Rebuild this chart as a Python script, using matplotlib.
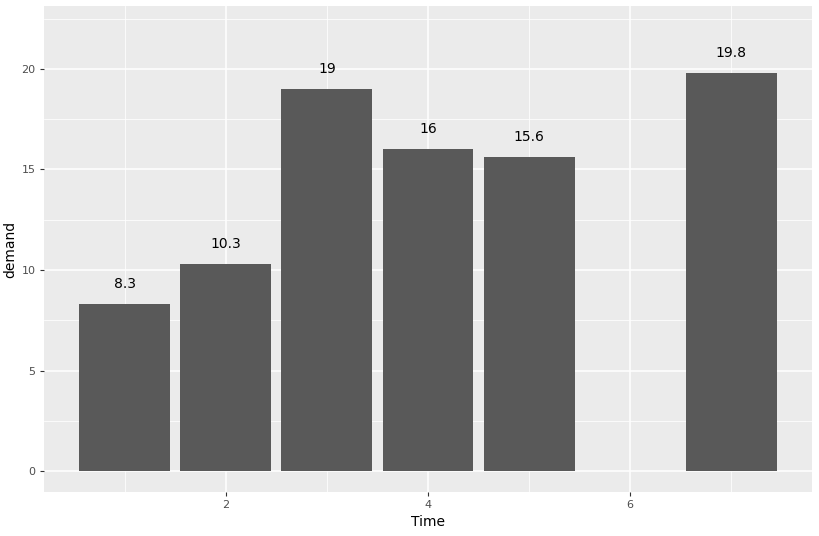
import matplotlib.pyplot as plt
from matplotlib.ticker import MultipleLocator

time = [1, 2, 3, 4, 5, 7]
demand = [8.3, 10.3, 19, 16, 15.6, 19.8]
labels = ["8.3", "10.3", "19", "16", "15.6", "19.8"]

fig = plt.figure(figsize=(8.2, 5.36), dpi=100)
ax = fig.add_axes([44 / 820, 1 - 492 / 536, 768 / 820, 486 / 536])
ax.set_facecolor("#EBEBEB")

ax.bar(time, demand, width=0.9, color="#595959", zorder=3)
for x, y, s in zip(time, demand, labels):
    ax.text(x, y + 1, s, ha="center", va="center", fontsize=10, color="black", zorder=4)

ax.set_xlim(0.2, 7.8)
ax.set_ylim(-1.04, 23.13)
ax.xaxis.set_major_locator(MultipleLocator(2))
ax.xaxis.set_minor_locator(MultipleLocator(1))
ax.yaxis.set_major_locator(MultipleLocator(5))
ax.yaxis.set_minor_locator(MultipleLocator(2.5))
ax.grid(which="major", color="white", linewidth=1.1, zorder=0)
ax.grid(which="minor", color="white", linewidth=0.55, zorder=0)
ax.set_axisbelow(True)

for sp in ax.spines.values():
    sp.set_visible(False)
ax.tick_params(which="major", length=3, width=0.8, color="#333333",
               labelsize=8, labelcolor="#4D4D4D", pad=3)
ax.tick_params(which="minor", length=0)

ax.set_xlabel("Time", fontsize=10, labelpad=3)
ax.set_ylabel("demand", fontsize=10, labelpad=3)

fig.savefig("out.png", dpi=100)
